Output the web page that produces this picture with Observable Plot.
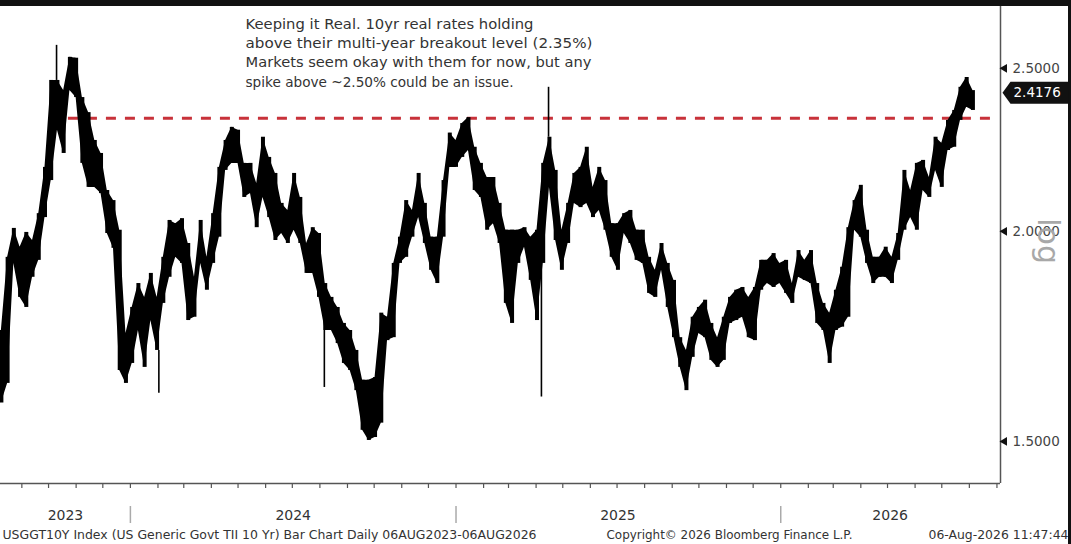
<!DOCTYPE html>
<html><head><meta charset="utf-8">
<script src="https://cdn.jsdelivr.net/npm/d3@7"></script>
<script src="https://cdn.jsdelivr.net/npm/@observablehq/plot@0.6"></script>
<style>
html,body{margin:0;padding:0;background:#111;}
#wrap{width:1071px;height:544px;background:#111;padding-top:6px;box-sizing:border-box;overflow:hidden;}
#chart svg{display:block;}
</style></head><body><div id="wrap"><div id="chart"></div></div>
<script>
// Weekly bars (Wednesday of each trading week)
const firstWeek = "2023-08-09";
const weeklyHigh = [
1.746,1.930,2.008,1.957,1.997,1.975,2.049,2.183,2.459,2.459,
2.425,2.538,2.535,2.402,2.353,2.265,2.225,2.115,2.086,2.003,
1.739,1.802,1.862,1.827,1.888,1.827,1.930,2.030,2.021,2.035,
1.967,1.878,2.030,1.930,2.049,2.183,2.265,2.306,2.297,2.195,
2.195,2.135,2.275,2.213,2.165,2.078,2.058,2.165,2.095,1.967,
2.010,1.994,1.862,1.827,1.802,1.763,1.746,1.699,1.631,1.631,
1.637,1.788,1.778,1.914,1.984,2.086,2.058,2.165,2.078,1.984,
1.984,2.144,2.288,2.265,2.318,2.337,2.244,2.195,2.153,2.153,
2.078,2.003,2.003,2.003,2.010,1.984,2.003,2.195,2.275,2.174,
2.003,2.078,2.165,2.183,2.244,2.124,2.183,2.144,2.021,2.021,
2.049,2.058,2.003,2.003,1.930,1.896,1.967,1.914,1.870,1.729,
1.699,1.778,1.802,1.820,1.763,1.729,1.778,1.827,1.845,1.852,
1.827,1.852,1.922,1.922,1.940,1.914,1.922,1.862,1.948,1.922,
1.948,1.862,1.812,1.788,1.845,1.904,2.010,2.086,2.130,2.003,
1.930,1.930,1.957,1.930,1.994,2.174,2.115,2.195,2.204,2.153,
2.275,2.256,2.328,2.360,2.436,2.469,2.425];
const weeklyLow = [
1.581,1.624,1.914,1.827,1.802,1.878,1.922,2.038,2.144,2.297,
2.225,2.425,2.402,2.195,2.124,2.124,2.106,1.994,1.954,1.653,
1.624,1.669,1.746,1.660,1.770,1.699,1.812,1.878,1.930,1.914,
1.770,1.778,1.914,1.845,1.914,1.984,2.174,2.195,2.195,2.095,
2.106,2.010,2.095,2.038,1.975,1.994,1.967,2.003,1.967,1.888,
1.888,1.827,1.746,1.746,1.715,1.669,1.653,1.608,1.523,1.502,
1.508,1.538,1.722,1.729,1.914,1.930,1.984,2.038,1.967,1.896,
1.862,1.984,2.183,2.183,2.213,2.234,2.115,2.095,2.003,2.021,
1.967,1.812,1.763,1.914,1.957,1.870,1.770,1.914,2.124,1.975,
1.896,1.967,2.078,2.066,2.078,2.038,2.058,2.003,1.930,1.896,
1.994,1.967,1.922,1.914,1.837,1.827,1.896,1.802,1.729,1.660,
1.608,1.683,1.739,1.729,1.676,1.660,1.676,1.763,1.770,1.778,
1.729,1.722,1.845,1.862,1.852,1.862,1.837,1.812,1.878,1.870,
1.862,1.763,1.746,1.669,1.746,1.754,1.778,2.003,1.984,1.914,
1.862,1.878,1.878,1.862,1.922,2.003,2.038,2.003,2.115,2.095,
2.174,2.124,2.234,2.244,2.328,2.370,2.360];
// single-day wicks
const spikes = [
  {date: "2023-10-10", from: 2.459, to: 2.580},
  {date: "2024-02-02", from: 1.699, to: 1.602},
  {date: "2024-08-06", from: 1.746, to: 1.615},
  {date: "2025-04-07", from: 1.914, to: 1.594},
  {date: "2025-04-15", from: 2.275, to: 2.436}
];
const breakout = [{value: 2.335, from: "2023-10-02", to: "2026-08-29"}];
const lastPrice = 2.4176;
const yTicks = [1.5, 2.0, 2.5];
const xDomain = ["2023-08-08", "2026-09-05"];
const yDomain = [1.416, 2.721];
const yearStarts = ["2024-01-01", "2025-01-01", "2026-01-01"];
const yearLabels = [
  {date: "2023-10-20", label: "2023"},
  {date: "2024-07-02", label: "2024"},
  {date: "2025-07-02", label: "2025"},
  {date: "2026-05-04", label: "2026"}
];
const annotation = [
  "Keeping it Real. 10yr real rates holding",
  "above their multi-year breakout level (2.35%)",
  "Markets seem okay with them for now, but any",
  "spike above ~2.50% could be an issue."
];
const footerLeft = "USGGT10Y Index (US Generic Govt TII 10 Yr) Bar Chart Daily 06AUG2023-06AUG2026";
const footerMid = "Copyright\u00A9 2026 Bloomberg Finance L.P.";
const footerRight = "06-Aug-2026 11:47:44";

const start = new Date(firstWeek);
const bars = weeklyHigh.map((h, i) => ({date: d3.utcDay.offset(start, 7 * i), high: h, low: weeklyLow[i]}));
const xD = xDomain.map(d => new Date(d));
const monthTicks = d3.utcMonth.range(xD[0], xD[1]);

const W = 1068, H = 538, MR = 68, MB = 61;
const font = "DejaVu Sans";

// text widths as measured on the reference (px)
const textWidths = new Map([
  [annotation[0], 288], [annotation[1], 347], [annotation[2], 346], [annotation[3], 268],
  [footerLeft, 534], [footerMid, 246], [footerRight, 140]
]);

const priceBox = {
  draw(ctx) {
    ctx.moveTo(2, 0);
    ctx.lineTo(10, -11);
    ctx.lineTo(68, -11);
    ctx.lineTo(68, 11);
    ctx.lineTo(10, 11);
    ctx.closePath();
  }
};

const plot = Plot.plot({
  width: W, height: H,
  marginTop: 0, marginLeft: 0, marginRight: MR, marginBottom: MB,
  style: {background: "#fff", fontFamily: font, overflow: "visible"},
  x: {type: "utc", domain: xD, axis: null},
  y: {type: "log", domain: yDomain, axis: null},
  marks: [
    Plot.ruleY(breakout, {y: "value", x1: d => new Date(d.from), x2: d => new Date(d.to), stroke: "#c8323a", strokeWidth: 3, strokeDasharray: "10,9"}),
    Plot.areaY(bars, {x: "date", y1: "low", y2: "high", fill: "#000", curve: "linear"}),
    Plot.ruleX(bars, {x: "date", y1: "low", y2: "high", stroke: "#000", strokeWidth: 4}),
    Plot.ruleX(spikes, {x: d => new Date(d.date), y1: "from", y2: "to", stroke: "#000", strokeWidth: 1.6}),
    Plot.ruleY([yDomain[0]], {stroke: "#555", strokeWidth: 1.5}),
    Plot.ruleX([xD[1]], {stroke: "#555", strokeWidth: 1.5}),
    Plot.tickX(monthTicks, {x: d => d, insetTop: H - MB, insetBottom: -5, stroke: "#555", strokeWidth: 1.2}),
    Plot.tickX(yearStarts, {x: d => new Date(d), insetTop: H - MB + 23, insetBottom: -40, stroke: "#aaa", strokeWidth: 1.5}),
    Plot.text(yearLabels, {x: d => new Date(d.date), text: "label", frameAnchor: "bottom", dy: 36, fontSize: 14, fill: "#333"}),
    Plot.dot(yTicks, {y: d => d, frameAnchor: "right", dx: 4, symbol: "triangle", r: 3.2, rotate: -90, fill: "#111", stroke: null}),
    Plot.text(yTicks, {y: d => d, frameAnchor: "right", dx: 12, textAnchor: "start", text: d => d.toFixed(4), fontSize: 13.5, fill: "#444"}),
    Plot.dot([lastPrice], {y: d => d, frameAnchor: "right", symbol: priceBox, fill: "#111", stroke: null, r: 5}),
    Plot.text([lastPrice], {y: d => d, frameAnchor: "right", dx: 13, textAnchor: "start", text: d => d.toFixed(4), fontSize: 13.5, fill: "#fff"}),
    Plot.text(["log"], {frameAnchor: "right", dx: 47, dy: 19, rotate: 90, fontSize: 30, fill: "#a8a8a8", text: d => d}),
    ...annotation.map((line, i) => Plot.text([line], {frameAnchor: "top-left", dx: 245, dy: 12 + 19.3 * i, textAnchor: "start", fontSize: 14.5, fill: "#333", text: d => d})),
    Plot.text([footerLeft], {frameAnchor: "bottom-left", dx: 2, dy: 55, textAnchor: "start", fontSize: 12, fill: "#333", text: d => d}),
    Plot.text([footerMid], {frameAnchor: "bottom-left", dx: 606, dy: 55, textAnchor: "start", fontSize: 12, fill: "#333", text: d => d}),
    Plot.text([footerRight], {frameAnchor: "bottom-right", dx: 68, dy: 55, textAnchor: "end", fontSize: 12, fill: "#333", text: d => d})
  ]
});
d3.select(plot).selectAll("text").each(function () {
  const w = textWidths.get(this.textContent);
  if (w) { this.setAttribute("textLength", w); this.setAttribute("lengthAdjust", "spacingAndGlyphs"); }
});
document.getElementById("chart").appendChild(plot);
</script></body></html>
